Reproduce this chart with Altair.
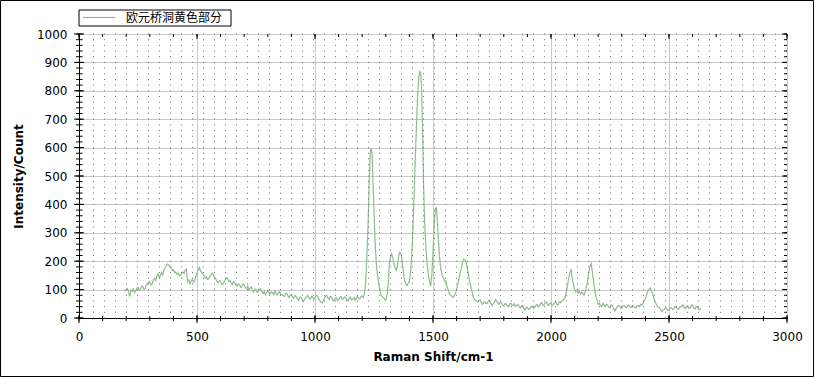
import altair as alt
import pandas as pd

# ---- data ----
# segment A: baseline 190-1205 cm-1, sampled every 5 cm-1
shift_a = list(range(190, 1206, 5))
intensity_a = [98, 96, 100, 104, 92, 75, 98, 94, 102, 90, 96, 104, 108, 98, 100, 112, 110, 100, 104, 116,
               118, 128, 126, 116, 120, 134, 140, 132, 148, 156, 142, 150, 160, 152, 170, 176, 184, 190, 188, 180,
               176, 168, 170, 160, 162, 154, 158, 148, 150, 158, 162, 156, 168, 172, 128, 134, 120, 130, 136, 126,
               132, 146, 160, 168, 178, 166, 160, 154, 150, 140, 144, 136, 138, 148, 152, 158, 150, 142, 136, 128,
               124, 132, 130, 118, 120, 126, 134, 142, 140, 128, 132, 124, 118, 128, 124, 114, 112, 120, 118, 108,
               110, 120, 116, 106, 104, 112, 98, 104, 110, 96, 92, 102, 100, 90, 94, 100, 104, 92, 86, 94,
               82, 90, 98, 88, 84, 92, 90, 82, 96, 86, 80, 90, 92, 82, 84, 78, 76, 86, 88, 78,
               72, 80, 82, 74, 70, 80, 76, 68, 62, 72, 74, 66, 58, 64, 72, 76, 80, 70, 66, 76,
               74, 66, 70, 80, 78, 68, 62, 56, 52, 62, 70, 76, 80, 70, 66, 76, 74, 64, 60, 68,
               72, 62, 64, 72, 76, 66, 68, 74, 72, 64, 60, 70, 74, 64, 66, 72, 62, 70, 76, 68,
               68, 74, 78, 72]

# segment B: main band region 1210-1680 cm-1
shift_b = [1210, 1215, 1220, 1225, 1230, 1235, 1238, 1242, 1246, 1250, 1255, 1260, 1265, 1270, 1275, 1280, 1290, 1300, 1305, 1310,
           1315, 1320, 1325, 1330, 1335, 1340, 1345, 1350, 1355, 1360, 1365, 1370, 1375, 1380, 1385, 1390, 1395, 1400, 1405, 1410,
           1415, 1420, 1425, 1430, 1435, 1440, 1444, 1448, 1452, 1456, 1460, 1465, 1470, 1475, 1480, 1485, 1490, 1495, 1500, 1505,
           1510, 1514, 1518, 1522, 1527, 1532, 1538, 1545, 1550, 1555, 1560, 1565, 1570, 1575, 1580, 1585, 1590, 1595, 1600, 1605,
           1610, 1615, 1620, 1625, 1630, 1635, 1640, 1645, 1650, 1655, 1660, 1665, 1670, 1675, 1680]
intensity_b = [90, 130, 220, 330, 490, 590, 596, 580, 470, 380, 260, 190, 150, 118, 100, 80, 72, 62, 80, 120,
               190, 215, 225, 212, 190, 175, 168, 190, 222, 232, 225, 195, 160, 130, 120, 115, 122, 130, 160, 220,
               310, 440, 560, 680, 790, 850, 868, 862, 800, 660, 470, 330, 250, 190, 155, 130, 112, 150, 230, 330,
               385, 388, 350, 290, 220, 180, 150, 140, 128, 130, 110, 98, 84, 80, 76, 72, 80, 86, 100, 118,
               140, 160, 175, 196, 208, 205, 196, 180, 155, 130, 110, 95, 74, 66, 62]

# segment C: 1685-2635 cm-1, sampled every 5 cm-1
shift_c = list(range(1685, 2636, 5))
intensity_c = [60, 56, 62, 64, 54, 48, 56, 58, 50, 52, 60, 62, 52, 44, 50, 56, 64, 60, 52, 48,
               56, 54, 46, 42, 50, 50, 44, 40, 48, 52, 46, 44, 50, 40, 44, 48, 40, 36, 42, 44,
               34, 28, 36, 38, 30, 32, 40, 42, 34, 36, 44, 48, 40, 40, 50, 54, 44, 46, 54, 56,
               48, 44, 52, 52, 44, 48, 54, 56, 48, 46, 56, 54, 58, 62, 66, 74,
               90, 115, 140, 160, 172, 140, 118, 100, 92, 98, 88, 94, 84, 90, 86, 80, 92, 110, 130, 160,
               182, 192, 165, 130, 100, 80, 62,
               48, 52, 44, 40, 52, 46, 40, 48, 46, 38, 36, 46, 44, 34, 24, 32, 38, 44, 42, 36,
               34, 42, 44, 38, 36, 44, 46, 38, 38, 44, 42, 36, 36, 44, 44, 40, 48, 46, 52, 60,
               70, 80, 95, 100, 106, 96, 88, 72, 60,
               50, 42, 38, 36, 28, 22, 30, 30, 36, 34, 26, 28, 36, 36, 30, 32, 40, 40, 32, 30,
               38, 38, 44, 46, 36, 34, 42, 42, 34, 36, 46, 44, 34, 32, 40, 40, 30, 28, 34]

series_name = ["欧元桥洞黄色部分"]

x_major = [0, 500, 1000, 1500, 2000, 2500, 3000]
x_minor = list(range(0, 3001, 100))
y_major = list(range(0, 1001, 100))
y_minor = list(range(0, 1001, 20))

W, H = 708, 284
GREEN = "#8fbc8f"
FONT = "DejaVu Sans"

shift = shift_a + shift_b + shift_c
intensity = intensity_a + intensity_b + intensity_c
n = min(len(shift), len(intensity))
df = pd.DataFrame({"shift": shift[:n], "intensity": intensity[:n]})
xs = alt.Scale(domain=[0, 3000], nice=False, zero=False)
ys = alt.Scale(domain=[0, 1000], nice=False)

x_axis = alt.Axis(values=x_major, format="d", grid=True, gridColor="#c8c8c8", ticks=False, tickSize=0,
                  labelFlush=False, labelOverlap=False,
                  labelPadding=13, titlePadding=9, domainColor="black",
                  labelFont=FONT, labelFontSize=12, labelColor="black",
                  titleFont=FONT, titleFontSize=12, titleFontWeight="bold", titleColor="black")
y_axis = alt.Axis(values=y_major, format="d", grid=True, gridColor="#c8c8c8", ticks=False, tickSize=0,
                  labelFlush=False, labelOverlap=False,
                  labelPadding=12, titlePadding=11, domainColor="black",
                  labelFont=FONT, labelFontSize=12, labelColor="black",
                  titleFont=FONT, titleFontSize=12, titleFontWeight="bold", titleColor="black")
X_TITLE = "Raman Shift/cm-1"
Y_TITLE = "Intensity/Count"


def X(field):
    return alt.X(field, scale=xs, title=X_TITLE, axis=x_axis)


def Y(field):
    return alt.Y(field, scale=ys, title=Y_TITLE, axis=y_axis)


line = alt.Chart(df).mark_line(color=GREEN, strokeWidth=1.2).encode(
    x=X("shift:Q"), y=Y("intensity:Q"))

dots = alt.Chart(pd.DataFrame({"v": y_minor})).mark_rule(
    color="#707070", strokeDash=[1, 10], strokeWidth=1).encode(y=Y("v:Q"))

ymaj = pd.DataFrame({"v": y_major})
ymin = pd.DataFrame({"v": y_minor})
xmaj = pd.DataFrame({"v": x_major})
xmin = pd.DataFrame({"v": x_minor})


def yt(d, a, b):
    return alt.Chart(d).mark_rule(color="black", strokeWidth=1).encode(
        y=Y("v:Q"), x=alt.value(a), x2=alt.value(b))


def xt(d, a, b):
    return alt.Chart(d).mark_rule(color="black", strokeWidth=1).encode(
        x=X("v:Q"), y=alt.value(a), y2=alt.value(b))


ticks = [
    yt(ymaj, -5, 5), yt(ymin, -3, 3), yt(ymaj, W - 5, W), yt(ymin, W - 3, W),
    xt(xmaj, H - 3, H + 5), xt(xmin, H - 2, H + 3), xt(xmaj, 0, 5), xt(xmin, 0, 3),
]

names = pd.DataFrame({"name": series_name})
leg_box = alt.Chart(names).mark_rect(fill="white", stroke="black", strokeWidth=1).encode(
    x=alt.value(0), x2=alt.value(152), y=alt.value(-24), y2=alt.value(-8))
leg_line = alt.Chart(names).mark_rule(color=GREEN, strokeWidth=1.2).encode(
    x=alt.value(4), x2=alt.value(36), y=alt.value(-16.5))
leg_text = alt.Chart(names).mark_text(
    align="left", baseline="middle", font="Noto Sans CJK SC", fontSize=12, color="black").encode(
    text="name:N", x=alt.value(47), y=alt.value(-16))

frame = alt.Chart(names).mark_rect(fillOpacity=0, stroke="black", strokeWidth=1).encode(
    x=alt.value(-78.5), x2=alt.value(734.5), y=alt.value(-33.5), y2=alt.value(342.5))

chart = alt.layer(line, dots, *ticks, leg_box, leg_line, leg_text, frame).properties(
    width=W, height=H,
    padding={"left": 79, "top": 34, "right": 28, "bottom": 60},
    autosize=alt.AutoSizeParams(type="none"),
    background="white",
).configure_view(stroke="black", strokeWidth=1)

chart.save("out.html", embed_options={"renderer": "svg", "actions": False})
